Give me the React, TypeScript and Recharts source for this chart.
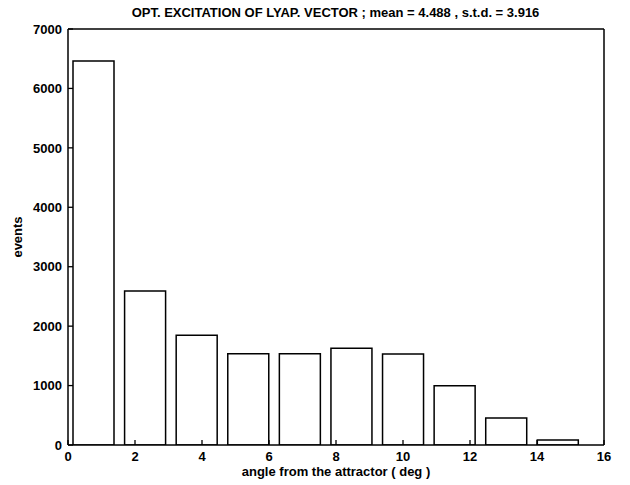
import React from 'react';
import { ComposedChart, Bar, XAxis, YAxis, Label } from 'recharts';

const binCenters = [0.77, 2.31, 3.85, 5.39, 6.93, 8.47, 10.01, 11.55, 13.09, 14.63];
const eventCounts = [6460, 2590, 1845, 1535, 1535, 1630, 1530, 995, 455, 85];
const xTicks = [0, 2, 4, 6, 8, 10, 12, 14, 16];
const yTicks = [0, 1000, 2000, 3000, 4000, 5000, 6000, 7000];
const titleText = 'OPT. EXCITATION OF LYAP. VECTOR ; mean = 4.488 , s.t.d. = 3.916';
const xLabel = 'angle from the attractor ( deg )';
const yLabel = 'events';

const data = binCenters.map((x, i) => ({ x, events: eventCounts[i] }));

const font = { fontFamily: 'Liberation Sans, Arial, sans-serif', fontWeight: 700 as const };
const FS = 13;
const TICK_LEN = 5;
const X_MARGIN = 7;
const Y_MARGIN = 6;

const BottomTick = (props: any) => {
  const { x, y, payload } = props;
  const axisY = y - X_MARGIN;
  return (
    <g>
      <line x1={x} x2={x} y1={axisY} y2={axisY - TICK_LEN} stroke="#000" strokeWidth={1.3} />
      <text x={x} y={y} dy="0.72em" textAnchor="middle" style={{ ...font, fontSize: FS }} fill="#000">
        {payload.value}
      </text>
    </g>
  );
};

const LeftTick = (props: any) => {
  const { x, y, payload } = props;
  const axisX = x + Y_MARGIN;
  return (
    <g>
      <line x1={axisX} x2={axisX + TICK_LEN} y1={y} y2={y} stroke="#000" strokeWidth={1.3} />
      <text x={x} y={y} dy="0.36em" textAnchor="end" style={{ ...font, fontSize: FS }} fill="#000">
        {payload.value}
      </text>
    </g>
  );
};

export default function App() {
  return (
    <div style={{ position: 'absolute', left: 0, top: 0, width: 630, height: 485, background: '#fff' }}>
      <div
        style={{
          position: 'absolute',
          top: 5,
          left: 68,
          width: 535,
          textAlign: 'center',
          ...font,
          fontSize: FS,
          color: '#000',
          whiteSpace: 'nowrap',
        }}
      >
        {titleText}
      </div>
      <ComposedChart
        width={630}
        height={485}
        data={data}
        margin={{ top: 29, right: 26, bottom: 0, left: 0 }}
      >
        <XAxis
          xAxisId="main"
          dataKey="x"
          type="number"
          domain={[0, 16]}
          ticks={xTicks}
          allowDataOverflow
          height={40}
          tickSize={0}
          tickMargin={X_MARGIN}
          tick={<BottomTick />}
          tickLine={false}
          axisLine={{ stroke: '#000', strokeWidth: 1.5 }}
        >
          <Label value={xLabel} position="insideBottom" offset={9} style={{ ...font, fontSize: FS, fill: '#000' }} />
        </XAxis>
        <XAxis
          xAxisId="top"
          orientation="top"
          dataKey="x"
          type="number"
          domain={[0, 16]}
          ticks={xTicks}
          allowDataOverflow
          height={1}
          mirror
          tick={false}
          tickSize={TICK_LEN}
          axisLine={{ stroke: '#000', strokeWidth: 1.5 }}
          tickLine={{ stroke: '#000', strokeWidth: 1.3 }}
        />
        <YAxis
          yAxisId="main"
          type="number"
          domain={[0, 7000]}
          ticks={yTicks}
          allowDataOverflow
          width={68}
          tickSize={0}
          tickMargin={Y_MARGIN}
          tick={<LeftTick />}
          tickLine={false}
          axisLine={{ stroke: '#000', strokeWidth: 1.5 }}
        >
          <Label
            value={yLabel}
            angle={-90}
            position="insideLeft"
            offset={17}
            style={{ ...font, fontSize: FS, fill: '#000', textAnchor: 'middle' }}
          />
        </YAxis>
        <YAxis
          yAxisId="right"
          orientation="right"
          type="number"
          domain={[0, 7000]}
          ticks={yTicks}
          allowDataOverflow
          width={1}
          mirror
          tick={false}
          tickSize={TICK_LEN}
          axisLine={{ stroke: '#000', strokeWidth: 1.5 }}
          tickLine={{ stroke: '#000', strokeWidth: 1.3 }}
        />
        <Bar
          dataKey="events"
          xAxisId="main"
          yAxisId="main"
          barSize={41}
          fill="#fff"
          stroke="#000"
          strokeWidth={1.5}
          isAnimationActive={false}
        />
      </ComposedChart>
    </div>
  );
}
